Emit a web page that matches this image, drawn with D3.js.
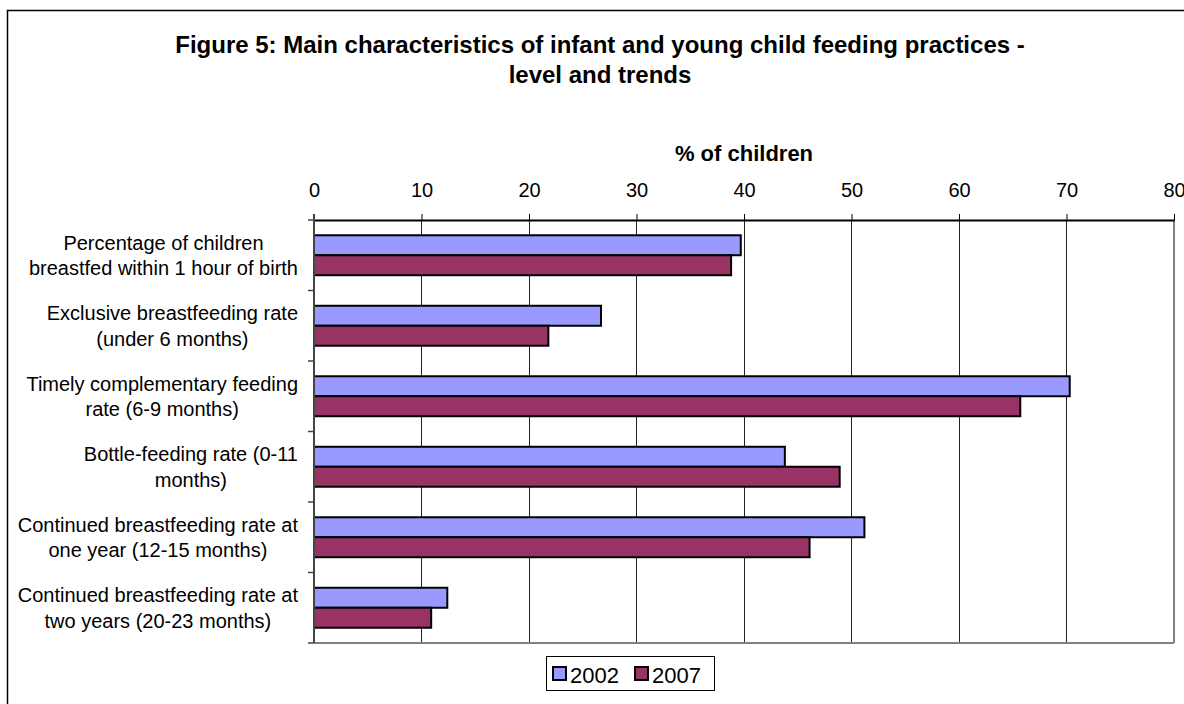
<html>
<head>
<script src="https://d3js.org/d3.v7.min.js"></script>
<style>
body { margin: 0; background: #fff; font-family: Arial, 'Liberation Sans', sans-serif; }
</style>
</head>
<body>
<div id="chart"></div>
<script>
var categories = [
  "Percentage of children|breastfed within 1 hour of birth",
  "Exclusive breastfeeding rate|(under 6 months)",
  "Timely complementary feeding|rate (6-9 months)",
  "Bottle-feeding rate (0-11|months)",
  "Continued breastfeeding rate at|one year (12-15 months)",
  "Continued breastfeeding rate at|two years (20-23 months)"
];
var years = ["2002", "2007"];
var values2002 = [39.7, 26.7, 70.3, 43.8, 51.2, 12.4];
var values2007 = [38.8, 21.8, 65.7, 48.9, 46.1, 10.9];
var xTicks = [0, 10, 20, 30, 40, 50, 60, 70, 80];
var colors = ["#9999ff", "#993366"];

var W = 1184, H = 704;
var svg = d3.select("#chart").append("svg")
  .attr("width", W).attr("height", H)
  .style("font-family", "Arial, 'Liberation Sans', sans-serif");

// outer frame (runs off the right and bottom)
svg.append("rect").attr("x", 7.5).attr("y", 10.5).attr("width", 1200).attr("height", 720)
  .attr("fill", "none").attr("stroke", "#000").attr("stroke-width", 1.5);

// title
var title = ["Figure 5: Main characteristics of infant and young child feeding practices -", "level and trends"];
svg.selectAll(".title").data(title).enter().append("text")
  .attr("x", 600).attr("y", function(d, i) { return 53 + i * 30; })
  .attr("text-anchor", "middle").attr("font-weight", "bold").attr("font-size", 24)
  .text(function(d) { return d; });

var x = d3.scaleLinear().domain([0, 80]).range([314, 1174]);
var y = d3.scaleBand().domain(categories).range([220, 643])
  .paddingInner(0.433).paddingOuter(0.2165);
var ySub = d3.scaleBand().domain(years).range([0, y.bandwidth()]);

// gridlines
svg.append("g").selectAll("line").data(xTicks.slice(1)).enter().append("line")
  .attr("x1", function(d) { return x(d); }).attr("x2", function(d) { return x(d); })
  .attr("y1", 220).attr("y2", 643)
  .attr("stroke", function(d) { return d === 80 ? "#808080" : "#222"; })
  .attr("stroke-width", function(d) { return d === 80 ? 2 : 1; })
  .attr("shape-rendering", "crispEdges");

// bottom border of plot area
svg.append("line").attr("x1", x(0)).attr("x2", x(80)).attr("y1", 643).attr("y2", 643)
  .attr("stroke", "#808080").attr("stroke-width", 2);

// bars
var series = [values2002, values2007];
series.forEach(function(vals, s) {
  svg.append("g").selectAll("rect").data(vals).enter().append("rect")
    .attr("x", x(0))
    .attr("y", function(d, i) { return y(categories[i]) + ySub(years[s]); })
    .attr("width", function(d) { return x(d) - x(0); })
    .attr("height", ySub.bandwidth())
    .attr("fill", colors[s]).attr("stroke", "#000").attr("stroke-width", 2);
});

// top axis
var xAxis = svg.append("g").attr("transform", "translate(0,220)")
  .call(d3.axisTop(x).tickValues(xTicks).tickSize(6).tickPadding(17).tickSizeOuter(0));
xAxis.select(".domain").attr("stroke", "#000").attr("stroke-width", 2);
xAxis.selectAll(".tick line").attr("stroke", "#000");
xAxis.selectAll(".tick text").attr("font-size", 20).attr("fill", "#000")
  .style("font-family", "Arial, 'Liberation Sans', sans-serif");

svg.append("text").attr("x", 744).attr("y", 160.5).attr("text-anchor", "middle")
  .attr("font-weight", "bold").attr("font-size", 22).text("% of children");

// left axis with ticks at category boundaries
var bounds = categories.map(function(c) { return y(c) - y.step() * y.paddingInner() / 2; });
bounds.push(643);
svg.append("line").attr("x1", 314).attr("x2", 314).attr("y1", 214).attr("y2", 643)
  .attr("stroke", "#444").attr("stroke-width", 2);
svg.append("g").selectAll("line").data(bounds).enter().append("line")
  .attr("x1", 308).attr("x2", 314)
  .attr("y1", function(d) { return d; }).attr("y2", function(d) { return d; })
  .attr("stroke", "#444").attr("stroke-width", 1.5);

// category labels: block right-aligned, lines centred in block
var lineH = 25.5, labFs = 20;
categories.forEach(function(c) {
  var lines = c.split("|");
  var cy = y(c) + y.bandwidth() / 2;
  var t = svg.append("text").attr("font-size", labFs).attr("text-anchor", "middle");
  var spans = lines.map(function(l, i) {
    return t.append("tspan")
      .attr("y", cy + (i - (lines.length - 1) / 2) * lineH + labFs * 0.35)
      .text(l);
  });
  var maxW = d3.max(spans, function(s) { return s.node().getComputedTextLength(); });
  spans.forEach(function(s) { s.attr("x", 298 - maxW / 2); });
});

// legend
var leg = svg.append("g");
leg.append("rect").attr("x", 546.5).attr("y", 656.5).attr("width", 168).attr("height", 34)
  .attr("fill", "#fff").attr("stroke", "#000").attr("stroke-width", 1);
var legX = [553, 635];
years.forEach(function(yr, i) {
  leg.append("rect").attr("x", legX[i]).attr("y", 667).attr("width", 13).attr("height", 13)
    .attr("fill", colors[i]).attr("stroke", "#000").attr("stroke-width", 2);
  leg.append("text").attr("x", legX[i] + 17).attr("y", 683).attr("font-size", 22).text(yr);
});
</script>
</body>
</html>
